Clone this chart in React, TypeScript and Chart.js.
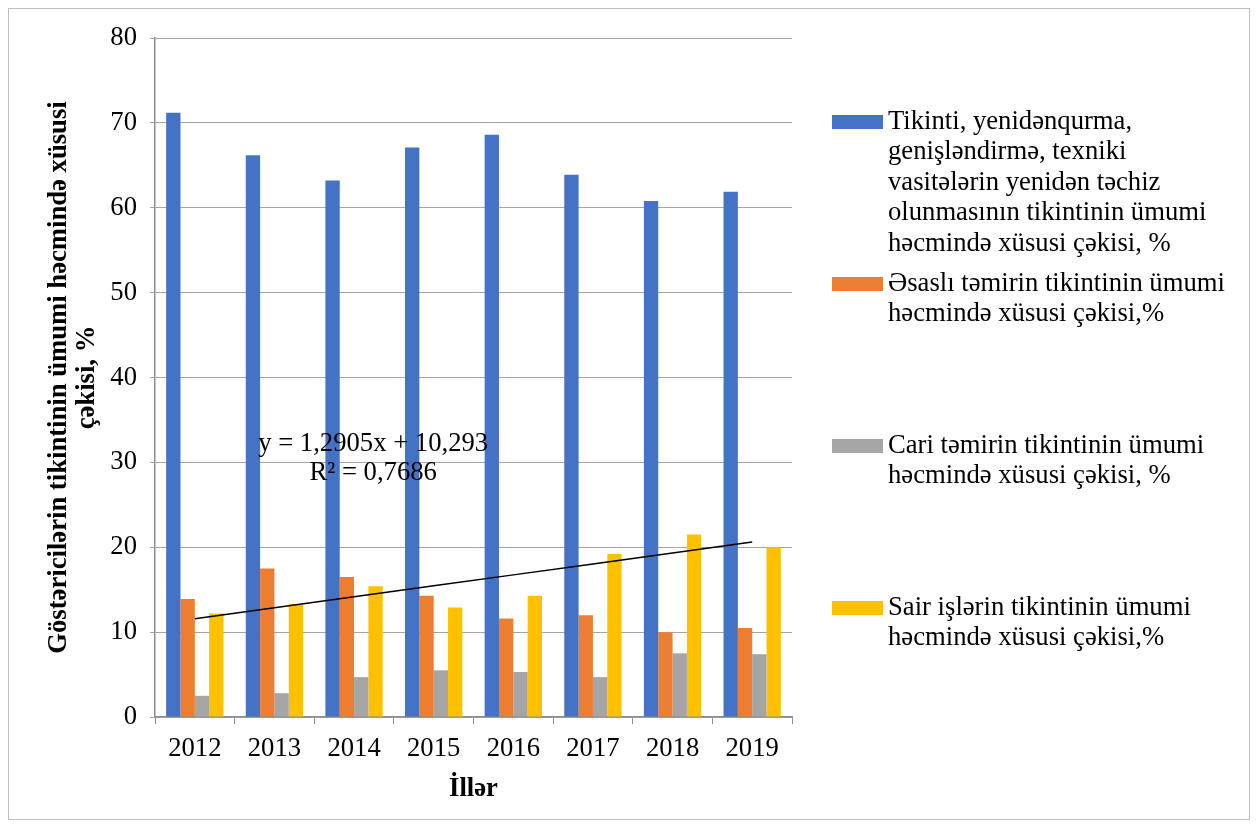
import React, { useEffect, useRef } from "react";
import { Chart, registerables } from "chart.js";

Chart.register(...registerables);

const YEARS = ["2012", "2013", "2014", "2015", "2016", "2017", "2018", "2019"];
const NEW_CONSTRUCTION = [71.2, 66.2, 63.2, 67.1, 68.6, 63.9, 60.8, 61.9];
const CAPITAL_REPAIR = [13.9, 17.5, 16.5, 14.3, 11.6, 12.0, 10.0, 10.5];
const CURRENT_REPAIR = [2.5, 2.8, 4.7, 5.5, 5.3, 4.7, 7.5, 7.4];
const OTHER_WORKS = [12.2, 13.3, 15.4, 12.9, 14.3, 19.2, 21.5, 20.0];

const Y_MIN = 0;
const Y_MAX = 80;
const Y_STEP = 10;

const SERIES_COLORS = ["#4472C4", "#ED7D31", "#A5A5A5", "#FFC000"];

const LEGEND_LINES = [
  [
    "Tikinti, yenidənqurma,",
    "genişləndirmə, texniki",
    "vasitələrin yenidən təchiz",
    "olunmasının tikintinin ümumi",
    "həcmində xüsusi çəkisi, %",
  ],
  ["Əsaslı təmirin tikintinin ümumi", "həcmində xüsusi çəkisi,%"],
  ["Cari təmirin tikintinin ümumi", "həcmində xüsusi çəkisi, %"],
  ["Sair işlərin tikintinin ümumi", "həcmində xüsusi çəkisi,%"],
];

const Y_TITLE = ["Göstəricilərin tikintinin ümumi həcmində xüsusi", "çəkisi, %"];
const X_TITLE = "İllər";
const TREND_TEXT = ["y = 1,2905x + 10,293", "R² = 0,7686"];

const FONT = "'Liberation Serif', 'Times New Roman', serif";
const FS = 26.67;

// Least-squares linear trend over x = 1..n (as the spreadsheet trendline does)
function linearTrend(values: number[]): number[] {
  const n = values.length;
  const xs = values.map((_, i) => i + 1);
  const mx = xs.reduce((a, b) => a + b, 0) / n;
  const my = values.reduce((a, b) => a + b, 0) / n;
  let sxy = 0;
  let sxx = 0;
  for (let i = 0; i < n; i++) {
    sxy += (xs[i] - mx) * (values[i] - my);
    sxx += (xs[i] - mx) * (xs[i] - mx);
  }
  const slope = sxy / sxx;
  const intercept = my - slope * mx;
  return xs.map((x) => intercept + slope * x);
}

const yTitlePlugin = {
  id: "yTitlePlugin",
  afterDraw(chart: any) {
    const { ctx, chartArea } = chart;
    const cy = (chartArea.top + chartArea.bottom) / 2;
    const xs = [chartArea.left - 89, chartArea.left - 61];
    ctx.save();
    ctx.font = `bold ${FS}px ${FONT}`;
    ctx.fillStyle = "#000";
    ctx.textAlign = "center";
    ctx.textBaseline = "alphabetic";
    Y_TITLE.forEach((line, i) => {
      ctx.save();
      ctx.translate(xs[i], cy);
      ctx.rotate(-Math.PI / 2);
      ctx.fillText(line, 0, 0);
      ctx.restore();
    });
    ctx.restore();
  },
};

const legendPlugin = {
  id: "customLegend",
  afterDraw(chart: any) {
    const { ctx, chartArea } = chart;
    const swatchX = chartArea.right + 40;
    const textX = swatchX + 56;
    const firstY = chartArea.top + 84;
    const pitch = 162;
    const lineH = 30.4;
    ctx.save();
    ctx.font = `${FS}px ${FONT}`;
    ctx.fillStyle = "#000";
    ctx.textAlign = "left";
    ctx.textBaseline = "middle";
    LEGEND_LINES.forEach((lines, i) => {
      const y = firstY + i * pitch;
      ctx.fillStyle = SERIES_COLORS[i];
      ctx.fillRect(swatchX, y - 7, 51, 14);
      ctx.fillStyle = "#000";
      lines.forEach((line, j) => {
        ctx.fillText(line, textX, y + j * lineH);
      });
    });
    ctx.restore();
  },
};

const trendLabelPlugin = {
  id: "trendLabel",
  afterDatasetsDraw(chart: any) {
    const { ctx } = chart;
    const xs = chart.scales.x;
    const ys = chart.scales.y;
    const x = xs.getPixelForValue(2.24);
    ctx.save();
    ctx.font = `${FS}px ${FONT}`;
    ctx.fillStyle = "#000";
    ctx.textAlign = "center";
    ctx.textBaseline = "middle";
    ctx.fillText(TREND_TEXT[0], x, ys.getPixelForValue(32.2));
    ctx.fillText(TREND_TEXT[1], x, ys.getPixelForValue(28.8));
    ctx.restore();
  },
};

export default function App() {
  const canvasRef = useRef<HTMLCanvasElement | null>(null);

  useEffect(() => {
    if (!canvasRef.current) return;
    const series = [NEW_CONSTRUCTION, CAPITAL_REPAIR, CURRENT_REPAIR, OTHER_WORKS];
    const chart = new Chart(canvasRef.current, {
      type: "bar",
      data: {
        labels: YEARS,
        datasets: [
          {
            type: "line" as const,
            label: "Trend",
            data: linearTrend(OTHER_WORKS),
            borderColor: "#000",
            borderWidth: 1.5,
            pointRadius: 0,
            fill: false,
            order: 0,
          } as any,
          ...series.map((d, i) => ({
            type: "bar" as const,
            label: LEGEND_LINES[i].join(" "),
            data: d,
            backgroundColor: SERIES_COLORS[i],
            borderWidth: 0,
            categoryPercentage: 0.72,
            barPercentage: 1.0,
            order: 1,
          })),
        ],
      },
      options: {
        animation: false,
        responsive: false,
        events: [],
        layout: { padding: { top: 28, right: 457, bottom: 0, left: 0 } },
        plugins: {
          legend: { display: false },
          tooltip: { enabled: false },
          title: { display: false },
        },
        scales: {
          x: {
            offset: true,
            grid: {
              display: true,
              drawOnChartArea: false,
              drawTicks: true,
              tickLength: 7,
              color: "#8e8e8e",
              offset: true,
            },
            border: { display: true, color: "#8e8e8e", width: 1.5 },
            ticks: {
              font: { family: FONT, size: FS },
              color: "#000",
              padding: 9,
              maxRotation: 0,
            },
            title: {
              display: true,
              text: X_TITLE,
              font: { family: FONT, size: FS, weight: "bold" },
              color: "#000",
              padding: { top: 0, bottom: 14 },
            },
            afterFit: (s: any) => {
              s.height = 102;
            },
          },
          y: {
            min: Y_MIN,
            max: Y_MAX,
            ticks: {
              stepSize: Y_STEP,
              font: { family: FONT, size: FS },
              color: "#000",
              padding: 13,
            },
            grid: { color: "#a6a6a6", lineWidth: 1, tickLength: 5, drawTicks: true },
            border: { display: true, color: "#8e8e8e", width: 1.5 },
            afterFit: (s: any) => {
              s.width = 146;
            },
          },
        },
      },
      plugins: [yTitlePlugin, legendPlugin, trendLabelPlugin],
    });
    return () => chart.destroy();
  }, []);

  return (
    <div
      style={{
        position: "relative",
        width: 1242,
        height: 812,
        border: "1px solid #bfbfbf",
        boxSizing: "border-box",
        background: "#fff",
      }}
    >
      <canvas
        ref={canvasRef}
        width={1240}
        height={810}
        style={{ position: "absolute", left: 0, top: 0, width: 1240, height: 810 }}
      />
    </div>
  );
}
